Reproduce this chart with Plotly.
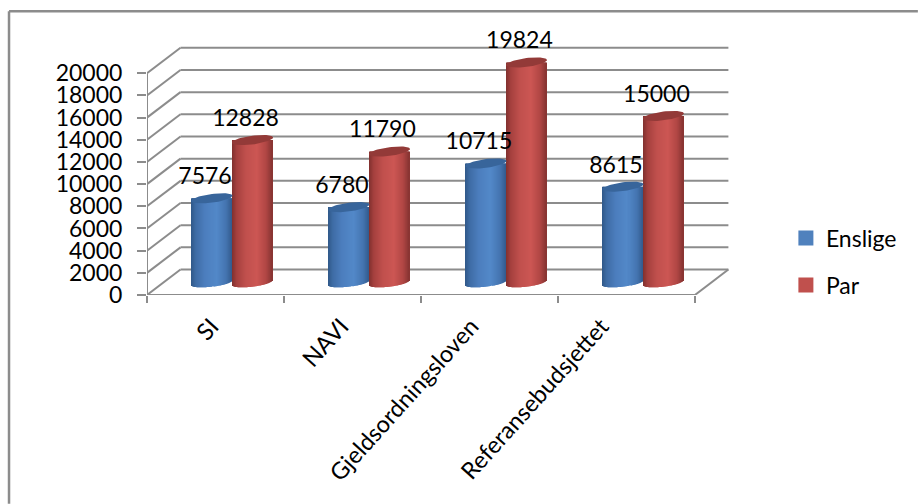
import math
import plotly.graph_objects as go

# Budget figures per scheme
categories = ["SI", "NAVI", "Gjeldsordningsloven", "Referansebudsjettet"]
enslige = [7576, 6780, 10715, 8615]
par = [12828, 11790, 19824, 15000]
y_ticks = list(range(0, 20001, 2000))
y_tick_text = [str(t) for t in y_ticks]

# Scale of the drawing area
PX_PER_CAT = 137.0
PX_PER_VAL = 0.0111
LEFT, FRONT_Y = 147.0, 295.0
X_MAX, Y_MAX = 4.3, 23000.0
DEPTH_X = 33.5 / PX_PER_CAT     # wall offset behind the front plane
DEPTH_Y = 25.5 / PX_PER_VAL
MID_X, MID_Y = DEPTH_X / 2, DEPTH_Y / 2   # columns stand half way back

COL_PX = 40.5
SEMI_A, SEMI_B, TILT = 20.6, 4.4, math.radians(7)
GRID = "#8c8c8c"


def mix(a, b, t):
    return "#%02x%02x%02x" % tuple(round(a[i] + (b[i] - a[i]) * t) for i in range(3))


def ramp(stops, t):
    for (t0, c0), (t1, c1) in zip(stops, stops[1:]):
        if t <= t1:
            return mix(c0, c1, (t - t0) / (t1 - t0))
    return mix(stops[-1][1], stops[-1][1], 0)


BLUE_RAMP = [(0, (48, 88, 136)), (0.12, (62, 108, 165)), (0.35, (76, 126, 190)),
             (0.62, (82, 136, 200)), (0.85, (68, 116, 176)), (1, (50, 90, 140))]
RED_RAMP = [(0, (128, 48, 46)), (0.12, (165, 64, 62)), (0.35, (192, 80, 77)),
            (0.62, (204, 86, 83)), (0.85, (176, 70, 68)), (1, (135, 52, 50))]


def ellipse_lower(px_from_centre):
    """Offset in pixels of the tilted ellipse's lower rim at a horizontal distance."""
    u = px_from_centre / SEMI_A
    rim = SEMI_B * math.sqrt(max(0.0, 1 - u * u))
    return rim - px_from_centre * math.tan(TILT)


def column_strips(values, side, stops):
    xs, tops, bases, colours = [], [], [], []
    n = int(COL_PX)
    for i, v in enumerate(values):
        centre = i + 0.5 + MID_X + side * COL_PX / 2 / PX_PER_CAT
        for k in range(n):
            t = (k + 0.5) / n
            dx = (t - 0.5) * COL_PX
            sag = ellipse_lower(dx) / PX_PER_VAL
            xs.append(centre + dx / PX_PER_CAT)
            bases.append(MID_Y - sag)
            tops.append(v + sag)
            colours.append(ramp(stops, t))
    return go.Bar(x=xs, y=tops, base=bases, width=COL_PX / n / PX_PER_CAT,
                  marker=dict(color=colours, line=dict(width=0)),
                  showlegend=False, hoverinfo="skip")


def column_cap(i, v, side, colour):
    centre = i + 0.5 + MID_X + side * COL_PX / 2 / PX_PER_CAT
    xs, ys = [], []
    for k in range(61):
        a = 2 * math.pi * k / 60
        px = SEMI_A * math.cos(a)
        py = SEMI_B * math.sin(a) + SEMI_A * math.cos(a) * math.sin(TILT)
        xs.append(centre + px / PX_PER_CAT)
        ys.append(v + MID_Y + py / PX_PER_VAL)
    return go.Scatter(x=xs, y=ys, mode="lines", fill="toself", fillcolor=colour,
                      line=dict(width=0, color=colour), showlegend=False,
                      hoverinfo="skip")


fig = go.Figure()
fig.add_trace(column_strips(enslige, -1, BLUE_RAMP))
fig.add_trace(column_strips(par, 1, RED_RAMP))

for i, v in enumerate(enslige):
    fig.add_trace(column_cap(i, v, -1, "#38659b"))
for i, v in enumerate(par):
    fig.add_trace(column_cap(i, v, 1, "#933a38"))

# Front axis lines sit on the edge of the plot area, so they must not be clipped
fig.add_trace(go.Scatter(x=[0, 0, 4], y=[y_ticks[-1], 0, 0], mode="lines",
                         line=dict(color=GRID, width=2), cliponaxis=False,
                         showlegend=False, hoverinfo="skip"))

# Value labels
for values, side in ((enslige, -1), (par, 1)):
    fig.add_trace(go.Scatter(
        x=[i + 0.5 + MID_X + (side * COL_PX / 2 - 7) / PX_PER_CAT for i in range(4)],
        y=[v + MID_Y + 20 / PX_PER_VAL for v in values],
        text=[str(v) for v in values], mode="text", textposition="middle center",
        textfont=dict(family="Lato", size=23, color="#000000"),
        cliponaxis=False, showlegend=False, hoverinfo="skip"))

# Legend entries
fig.add_trace(go.Scatter(x=[None], y=[None], mode="markers", name="Enslige", legendgroup="a",
                         marker=dict(symbol="square", size=15, color="#4f81bd")))
fig.add_trace(go.Scatter(x=[None], y=[None], mode="markers", name="Par", legendgroup="b",
                         marker=dict(symbol="square", size=15, color="#c0504d")))

# Back wall, left wall and floor
shapes = []


def seg(x0, y0, x1, y1):
    shapes.append(dict(type="line", xref="x", yref="y", x0=x0, y0=y0, x1=x1, y1=y1,
                       layer="below", line=dict(color=GRID, width=2)))


for t in y_ticks:
    seg(0, t, DEPTH_X, t + DEPTH_Y)
    seg(DEPTH_X, t + DEPTH_Y, 4 + DEPTH_X, t + DEPTH_Y)
seg(4, 0, 4 + DEPTH_X, DEPTH_Y)

plot_w = X_MAX * PX_PER_CAT
plot_h = Y_MAX * PX_PER_VAL


def page_x(px):
    return (px - LEFT) / plot_w


def page_y(py):
    return (FRONT_Y - py) / plot_h


# Outer frame of the chart: only its top and left edges fall inside the page
for x0, y0, x1, y1 in ((9, 504, 9, 11), (9, 11, 918, 11)):
    shapes.append(dict(type="line", xref="paper", yref="paper", layer="below",
                       x0=page_x(x0), y0=page_y(y0), x1=page_x(x1), y1=page_y(y1),
                       line=dict(color=GRID, width=2.5)))

fig.update_layout(
    width=918, height=504,
    margin=dict(l=LEFT, r=918 - LEFT - plot_w, t=FRONT_Y - plot_h, b=504 - FRONT_Y, autoexpand=False),
    paper_bgcolor="white", plot_bgcolor="white",
    barmode="overlay", shapes=shapes,
    font=dict(family="Lato", color="#000000"),
    legend=dict(x=page_x(786), y=page_y(216.5), xanchor="left", yanchor="top",
                font=dict(family="Lato", size=23), tracegroupgap=14,
                bgcolor="rgba(0,0,0,0)", itemclick=False, itemdoubleclick=False),
    xaxis=dict(range=[0, X_MAX], tickmode="array",
               tickvals=[0.47 + 0.949 * i for i in range(4)],
               ticktext=categories, tickangle=-48, ticks="", showgrid=False, zeroline=False,
               showline=False, tickfont=dict(family="Lato", size=23.5), ticklabelstandoff=12,
               minor=dict(tickmode="array", tickvals=[0, 1, 2, 3, 4], ticks="outside", ticklen=7,
                          tickwidth=2, tickcolor=GRID, showgrid=False)),
    yaxis=dict(range=[0, Y_MAX], tickmode="array", tickvals=y_ticks, ticktext=y_tick_text,
               ticks="outside", ticklen=9, tickwidth=2, tickcolor=GRID, showgrid=False,
               zeroline=False, showline=False,
               tickfont=dict(family="Lato", size=23), ticklabelstandoff=10),
)

fig.write_html("out.html")
